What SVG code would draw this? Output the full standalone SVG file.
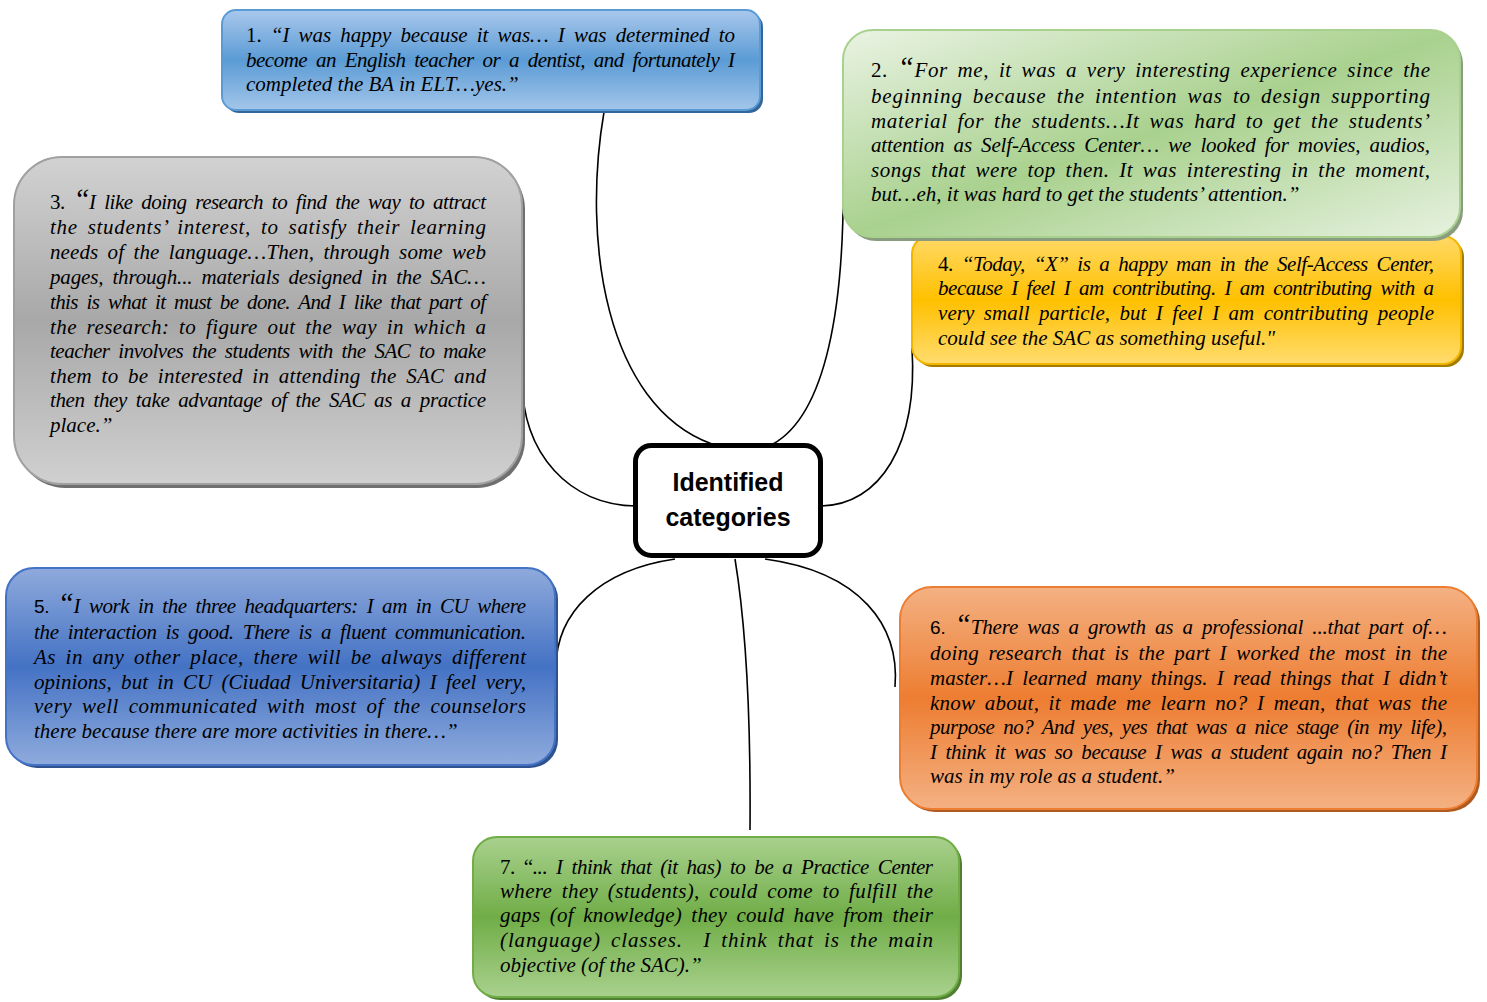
<svg xmlns="http://www.w3.org/2000/svg" width="1487" height="1002" viewBox="0 0 1487 1002">
<defs>
<linearGradient id="gBlue1" x1="0" y1="0" x2="0" y2="1"><stop offset="0" stop-color="#a9c8ec"/><stop offset="0.5" stop-color="#5b9bd5"/><stop offset="1" stop-color="#a3c6ea"/></linearGradient>
<linearGradient id="gGreen2" x1="0" y1="0" x2="1" y2="1"><stop offset="0" stop-color="#eaf3e4"/><stop offset="0.5" stop-color="#a9d18e"/><stop offset="1" stop-color="#e6f1df"/></linearGradient>
<linearGradient id="gGray3" x1="0" y1="0" x2="0" y2="1"><stop offset="0" stop-color="#d2d2d2"/><stop offset="0.5" stop-color="#a8a8a8"/><stop offset="1" stop-color="#d0d0d0"/></linearGradient>
<linearGradient id="gGold4" x1="0" y1="0" x2="0" y2="1"><stop offset="0" stop-color="#ffd966"/><stop offset="0.5" stop-color="#ffc000"/><stop offset="1" stop-color="#ffdc6e"/></linearGradient>
<linearGradient id="gBlue5" x1="0" y1="0" x2="0" y2="1"><stop offset="0" stop-color="#8faadc"/><stop offset="0.5" stop-color="#4472c4"/><stop offset="1" stop-color="#8fabdd"/></linearGradient>
<linearGradient id="gOrange6" x1="0" y1="0" x2="0" y2="1"><stop offset="0" stop-color="#f4b183"/><stop offset="0.5" stop-color="#ed7d31"/><stop offset="1" stop-color="#f4b183"/></linearGradient>
<linearGradient id="gGreen7" x1="0" y1="0" x2="0" y2="1"><stop offset="0" stop-color="#a9d18e"/><stop offset="0.5" stop-color="#70ad47"/><stop offset="1" stop-color="#a9d18e"/></linearGradient>
</defs>
<style>
.q{font-family:"Liberation Serif","Times New Roman",serif;font-style:italic;font-size:21px;fill:#000;}
.j{word-spacing:4px;}
.n{font-style:normal;}
.ns{font-style:normal;font-family:"Liberation Sans",Arial,sans-serif;font-size:19px;}
.bq{font-size:29px;}
.conn path{fill:none;stroke:#000;stroke-width:1.6;}
.title{font-family:"Liberation Sans",Arial,sans-serif;font-weight:bold;font-size:25px;fill:#000;text-anchor:middle;}
</style>

<g id="connectors" class="conn">
<path d="M604,112 C582,240 605,405 712,444"/>
<path d="M843,160 C846,310 825,415 773,444"/>
<path d="M522,378 C522,455 570,505 636,506"/>
<path d="M912,348 C918,445 880,505 821,506"/>
<path d="M675,559 C600,570 556,612 556,668"/>
<path d="M765,559 C860,572 900,625 895,687"/>
<path d="M735,559 C745,620 751,700 750,830"/>
</g>

<g id="node1">
<rect x="225" y="13" width="538" height="100" rx="14" fill="#33679c"/>
<rect x="222" y="10" width="538" height="100" rx="14" fill="url(#gBlue1)" stroke="#5b9bd5" stroke-width="2"/>
<text class="q j" x="246" y="42" textLength="489" lengthAdjust="spacing"><tspan class="n">1.</tspan> “I was happy because it was… I was determined to</text>
<text class="q j" x="246" y="67" textLength="489" lengthAdjust="spacing">become an English teacher or a dentist, and fortunately I</text>
<text class="q" x="246" y="91">completed the BA in ELT…yes.”</text>
</g>

<g id="node4">
<rect x="915" y="239" width="549" height="128" rx="18" fill="#a37c00"/>
<rect x="912" y="236" width="549" height="128" rx="18" fill="url(#gGold4)" stroke="#f2b600" stroke-width="2"/>
<text class="q j" x="938" y="271" textLength="496" lengthAdjust="spacing"><tspan class="n">4.</tspan> “Today, “X” is a happy man in the Self-Access Center,</text>
<text class="q j" x="938" y="295" textLength="496" lengthAdjust="spacing">because I feel I am contributing. I am contributing with a</text>
<text class="q j" x="938" y="320" textLength="496" lengthAdjust="spacing">very small particle, but I feel I am contributing people</text>
<text class="q" x="938" y="345">could see the SAC as something useful."</text>
</g>

<g id="node2">
<rect x="846" y="34" width="617" height="207" rx="30" fill="#8a9c80"/>
<rect x="843" y="30" width="617" height="207" rx="30" fill="url(#gGreen2)" stroke="#a9d18e" stroke-width="2"/>
<text class="q j" x="871" y="77" textLength="559" lengthAdjust="spacing"><tspan class="n">2.</tspan> <tspan class="bq">“</tspan>For me, it was a very interesting experience since the</text>
<text class="q j" x="871" y="103" textLength="559" lengthAdjust="spacing">beginning because the intention was to design supporting</text>
<text class="q j" x="871" y="128" textLength="559" lengthAdjust="spacing">material for the students…It was hard to get the students’</text>
<text class="q j" x="871" y="152" textLength="559" lengthAdjust="spacing">attention as Self-Access Center… we looked for movies, audios,</text>
<text class="q j" x="871" y="177" textLength="559" lengthAdjust="spacing">songs that were top then. It was interesting in the moment,</text>
<text class="q" x="871" y="201">but…eh, it was hard to get the students’ attention.”</text>
</g>

<g id="node3">
<rect x="17" y="161" width="508" height="327" rx="48" fill="#6f6f6f"/>
<rect x="14" y="157" width="508" height="327" rx="48" fill="url(#gGray3)" stroke="#a0a0a0" stroke-width="2"/>
<text class="q j" x="50" y="209" textLength="436" lengthAdjust="spacing"><tspan class="n">3.</tspan> <tspan class="bq">“</tspan>I like doing research to find the way to attract</text>
<text class="q j" x="50" y="234" textLength="436" lengthAdjust="spacing">the students’ interest, to satisfy their learning</text>
<text class="q j" x="50" y="259" textLength="436" lengthAdjust="spacing">needs of the language…Then, through some web</text>
<text class="q j" x="50" y="284" textLength="436" lengthAdjust="spacing">pages, through... materials designed in the SAC…</text>
<text class="q j" x="50" y="309" textLength="436" lengthAdjust="spacing">this is what it must be done. And I like that part of</text>
<text class="q j" x="50" y="334" textLength="436" lengthAdjust="spacing">the research: to figure out the way in which a</text>
<text class="q j" x="50" y="358" textLength="436" lengthAdjust="spacing">teacher involves the students with the SAC to make</text>
<text class="q j" x="50" y="383" textLength="436" lengthAdjust="spacing">them to be interested in attending the SAC and</text>
<text class="q j" x="50" y="407" textLength="436" lengthAdjust="spacing">then they take advantage of the SAC as a practice</text>
<text class="q" x="50" y="432">place.”</text>
</g>

<g id="center">
<rect x="635.5" y="445.5" width="185" height="110" rx="16" fill="#fff" stroke="#000" stroke-width="5"/>
<text class="title" x="728" y="491">Identified</text>
<text class="title" x="728" y="526">categories</text>
</g>

<g id="node5">
<rect x="9" y="571" width="549" height="197" rx="28" fill="#2f528f"/>
<rect x="6" y="568" width="549" height="197" rx="28" fill="url(#gBlue5)" stroke="#4472c4" stroke-width="2"/>
<text class="q j" x="34" y="613" textLength="492" lengthAdjust="spacing"><tspan class="ns">5.</tspan> <tspan class="bq">“</tspan>I work in the three headquarters: I am in CU where</text>
<text class="q j" x="34" y="639" textLength="492" lengthAdjust="spacing">the interaction is good. There is a fluent communication.</text>
<text class="q j" x="34" y="664" textLength="492" lengthAdjust="spacing">As in any other place, there will be always different</text>
<text class="q j" x="34" y="689" textLength="492" lengthAdjust="spacing">opinions, but in CU (Ciudad Universitaria) I feel very,</text>
<text class="q j" x="34" y="713" textLength="492" lengthAdjust="spacing">very well communicated with most of the counselors</text>
<text class="q" x="34" y="738">there because there are more activities in there…”</text>
</g>

<g id="node6">
<rect x="903" y="590" width="577" height="222" rx="32" fill="#ae5a21"/>
<rect x="900" y="587" width="577" height="222" rx="32" fill="url(#gOrange6)" stroke="#ed7d31" stroke-width="2"/>
<text class="q j" x="930" y="634" textLength="517" lengthAdjust="spacing"><tspan class="ns">6.</tspan> <tspan class="bq">“</tspan>There was a growth as a professional ...that part of…</text>
<text class="q j" x="930" y="660" textLength="517" lengthAdjust="spacing">doing research that is the part I worked the most in the</text>
<text class="q j" x="930" y="685" textLength="517" lengthAdjust="spacing">master…I learned many things. I read things that I didn’t</text>
<text class="q j" x="930" y="710" textLength="517" lengthAdjust="spacing">know about, it made me learn no? I mean, that was the</text>
<text class="q j" x="930" y="734" textLength="517" lengthAdjust="spacing">purpose no? And yes, yes that was a nice stage (in my life),</text>
<text class="q j" x="930" y="759" textLength="517" lengthAdjust="spacing">I think it was so because I was a student again no? Then I</text>
<text class="q" x="930" y="783">was in my role as a student.”</text>
</g>

<g id="node7">
<rect x="476" y="840" width="486" height="160" rx="24" fill="#507e32"/>
<rect x="473" y="837" width="486" height="160" rx="24" fill="url(#gGreen7)" stroke="#70ad47" stroke-width="2"/>
<text class="q j" x="500" y="874" textLength="433" lengthAdjust="spacing"><tspan class="n">7. “</tspan>... I think that (it has) to be a Practice Center</text>
<text class="q j" x="500" y="898" textLength="433" lengthAdjust="spacing">where they (students), could come to fulfill the</text>
<text class="q j" x="500" y="922" textLength="433" lengthAdjust="spacing">gaps (of knowledge) they could have from their</text>
<text class="q j" x="500" y="947" textLength="433" lengthAdjust="spacing">(language) classes.&#160; I think that is the main</text>
<text class="q" x="500" y="972">objective (of the SAC).”</text>
</g>
</svg>
